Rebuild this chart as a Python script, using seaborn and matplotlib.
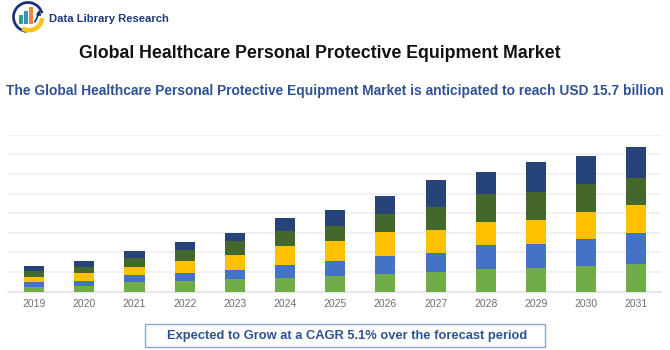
import matplotlib
matplotlib.use('Agg')
import matplotlib.pyplot as plt
from matplotlib.patches import Arc, Rectangle, Wedge
import pandas as pd
import seaborn as sns

years = ['2019', '2020', '2021', '2022', '2023', '2024', '2025', '2026', '2027', '2028', '2029', '2030', '2031']
seg_a = [0.51, 0.61, 0.98, 1.12, 1.32, 1.36, 1.59, 1.76, 1.97, 2.34, 2.41, 2.58, 2.81]
seg_b = [0.51, 0.51, 0.71, 0.78, 0.85, 1.39, 1.53, 1.90, 1.97, 2.37, 2.41, 2.78, 3.15]
seg_c = [0.47, 0.81, 0.81, 1.25, 1.59, 1.93, 2.03, 2.44, 2.31, 2.44, 2.51, 2.81, 2.85]
seg_d = [0.64, 0.61, 0.98, 1.08, 1.36, 1.46, 1.59, 1.80, 2.34, 2.78, 2.78, 2.78, 2.75]
seg_e = [0.54, 0.54, 0.68, 0.85, 0.85, 1.32, 1.59, 1.86, 2.81, 2.31, 3.08, 2.88, 3.19]
colores = ['#70AD47', '#4472C4', '#FFC000', '#43682B', '#264478']

W, H = 670, 350
sns.set_theme(style='white')
plt.rcParams['font.family'] = ['Liberation Sans', 'DejaVu Sans']

fig = plt.figure(figsize=(W / 100, H / 100), dpi=100)
ax = fig.add_axes([8 / W, 1 - 291.7 / H, 653 / W, 157 / H])

# barras apiladas
df = pd.DataFrame({'year': years, 'a': seg_a, 'b': seg_b, 'c': seg_c, 'd': seg_d, 'e': seg_e})
base = pd.Series([0.0] * len(years))
for col, color in zip(['a', 'b', 'c', 'd', 'e'], colores):
    sns.barplot(data=df, x='year', y=col, color=color, width=0.4, bottom=base,
                saturation=1, ax=ax, zorder=3, linewidth=0)
    base = base + df[col]

ax.set_xlim(-0.52, 12.49)
ax.set_ylim(0, 16)
ax.set_yticks(range(0, 17, 2))
ax.set_yticklabels([])
ax.set_xlabel('')
ax.set_ylabel('')
ax.grid(axis='y', color='#EDEDF2', linewidth=1.1)
ax.set_axisbelow(True)
ax.tick_params(axis='x', length=0, labelsize=7.5, labelcolor='#6E6E6E', pad=5)
ax.tick_params(axis='y', length=0)
sns.despine(ax=ax, left=True, top=True, right=True)
ax.spines['bottom'].set_color('#E4E4E8')

# textos
fig.text(320 / W, 1 - 54 / H, 'Global Healthcare Personal Protective Equipment Market',
         ha='center', va='center', fontsize=12.75, fontweight='bold', color='#111111')
fig.text(334.5 / W, 1 - 90.5 / H,
         'The Global Healthcare Personal Protective Equipment Market is anticipated to reach USD 15.7 billion',
         ha='center', va='center', fontsize=9.95, fontweight='bold', color='#2F5291')
fig.text(49 / W, 1 - 19 / H, 'Data Library Research', ha='left', va='center',
         fontsize=8.1, fontweight='bold', color='#1F3A7A')

# recuadro inferior
fig.add_artist(Rectangle((144.5 / W, 1 - 347 / H), 400 / W, 23 / H, transform=fig.transFigure,
                         facecolor='white', edgecolor='#8FA6CC', linewidth=1))
fig.text(347.5 / W, 1 - 335.5 / H, 'Expected to Grow at a CAGR 5.1% over the forecast period',
         ha='center', va='center', fontsize=9.3, fontweight='bold', color='#2F5291')

# logo
logo = fig.add_axes([8 / W, 1 - 36 / H, 40 / W, 36 / H])
logo.set_xlim(8, 48)
logo.set_ylim(36, 0)
logo.axis('off')
logo.add_patch(Arc((28, 17), 29, 29, theta1=95, theta2=345, color='#1C3278', linewidth=2))
logo.add_patch(Wedge((29, 17), 15.5, 5, 120, width=4.5, facecolor='#F5C518', linewidth=0))
for xb, top, color in [(19, 15, '#2FA084'), (24, 11, '#3B8FC4'), (29, 7, '#E8873A')]:
    logo.add_patch(Rectangle((xb, top), 3.6, 24 - top, facecolor=color, linewidth=0))
logo.annotate('', xy=(39, 7), xytext=(33, 24),
              arrowprops=dict(arrowstyle='-|>', color='#1C3278', linewidth=1.2, mutation_scale=6,
                              connectionstyle='arc3,rad=0.2'))

fig.savefig('out.png', dpi=100)
